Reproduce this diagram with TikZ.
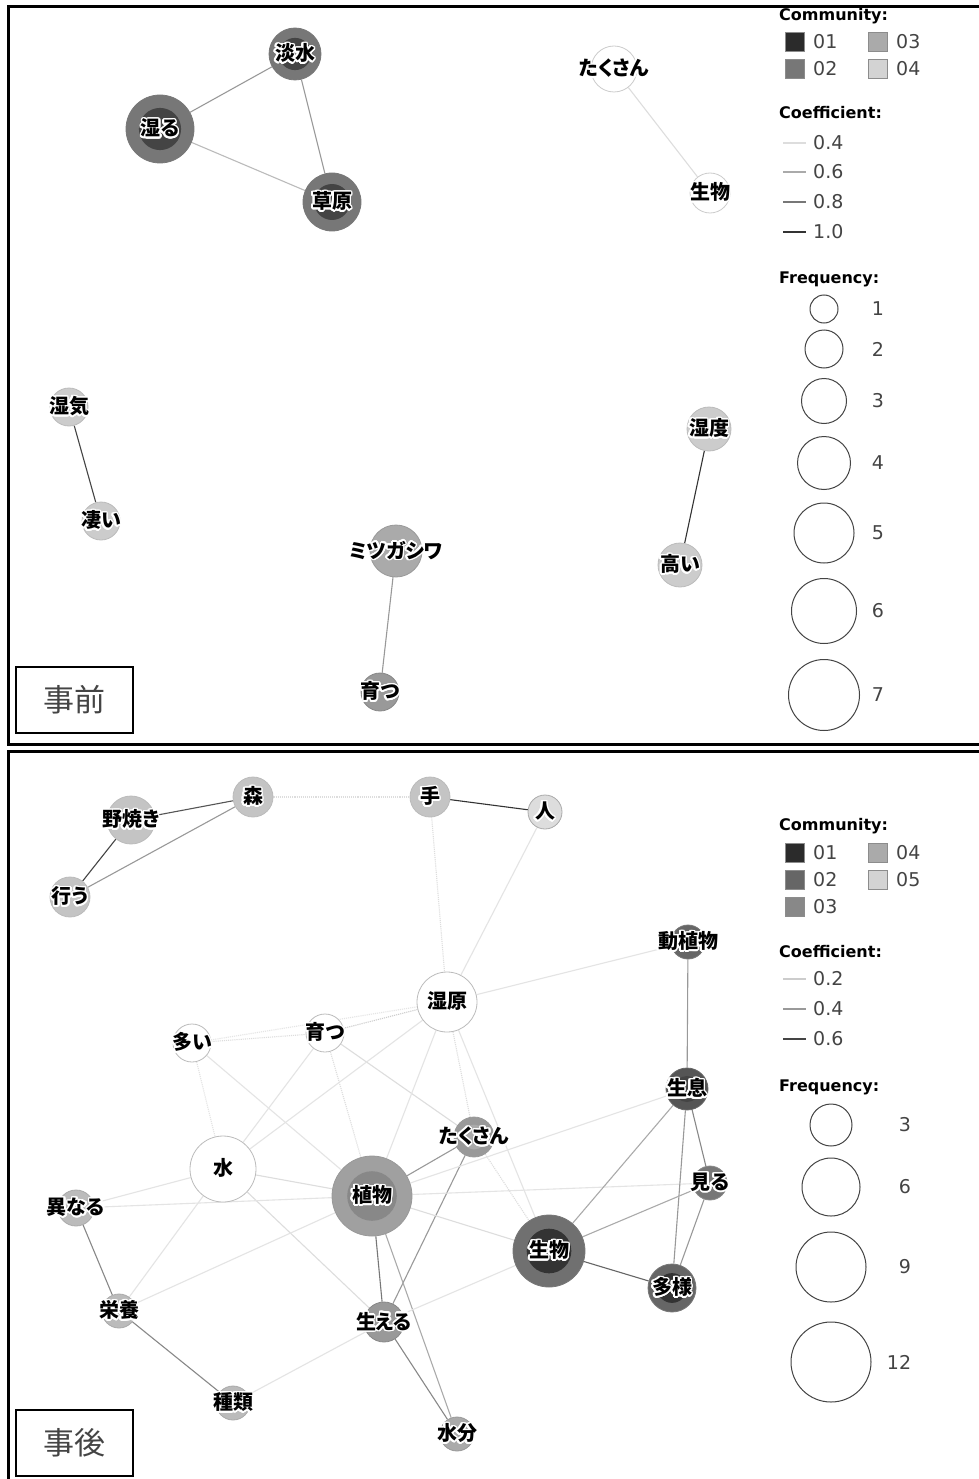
\documentclass[tikz,border=0pt]{standalone}
\usepackage{fontspec}
\usepackage{contour}
\newfontfamily\jpf{Noto Sans CJK JP}[RawFeature=+palt]
\newfontfamily\lgf{DejaVu Sans}
\contourlength{1.5pt}
\contournumber{24}
\usetikzlibrary{backgrounds}
\pgfdeclarelayer{bg}
\pgfdeclarelayer{edges}
\pgfsetlayers{bg,edges,main}
\definecolor{g2b}{HTML}{2B2B2B}
\definecolor{g33}{HTML}{333333}
\definecolor{g44}{HTML}{444444}
\definecolor{g55}{HTML}{555555}
\definecolor{g66}{HTML}{666666}
\definecolor{g70}{HTML}{707070}
\definecolor{g77}{HTML}{777777}
\definecolor{g88}{HTML}{888888}
\definecolor{g99}{HTML}{999999}
\definecolor{ga0}{HTML}{A0A0A0}
\definecolor{gaa}{HTML}{AAAAAA}
\definecolor{gbb}{HTML}{BBBBBB}
\definecolor{gc4}{HTML}{C4C4C4}
\definecolor{gcc}{HTML}{CCCCCC}
\definecolor{gd3}{HTML}{D3D3D3}
\definecolor{gdd}{HTML}{DDDDDD}
\definecolor{ge0}{HTML}{E4E4E4}
\tikzset{
  lab/.style={font=\jpf\bfseries\fontsize{20}{20}\selectfont, text=black, inner sep=0pt},
  ed/.style={line width=1.1pt, draw=#1},
  edd/.style={line width=1.1pt, draw=#1, densely dotted},
  sq/.style={minimum size=19pt, inner sep=0pt, draw=black!45, line width=0.6pt},
  num/.style={font=\lgf\fontsize{19}{19}\selectfont, text=g44, anchor=west, inner sep=0pt},
  hd/.style={font=\lgf\bfseries\fontsize{16}{16}\selectfont, text=black, anchor=west, inner sep=0pt},
  fc/.style={circle, draw=g44, line width=1pt, inner sep=0pt, minimum size=#1},
  frame/.style={line width=3pt, draw=black},
  tag/.style={draw=black, line width=2pt, minimum width=117pt, minimum height=66pt, inner sep=0pt,
    font=\jpf\fontsize{31}{31}\selectfont, text=g44},
}
% name, x, y, r, outer, inner, border, text
\newcommand\wnode[8]{%
  \node[circle, inner sep=0pt, minimum size=2*#4, fill=#5, draw=#7, line width=0.8pt,
    path picture={\fill[#6] (path picture bounding box.center) circle[radius=0.62*#4pt];},
    label={[lab]center:\contour{white}{#8}}] (#1) at (#2,#3) {};}
\begin{document}
\begin{tikzpicture}[x=1pt,y=-1pt]
\begin{pgfonlayer}{bg}
\fill[white] (0,0) rectangle (978,1479);
\end{pgfonlayer}
\useasboundingbox (0,0) rectangle (978,1479);

% ================= top panel =================
\wnode{tansui}{295}{54}{26}{g77}{g44}{g77}{淡水}
\wnode{shimeru}{160}{129}{34}{g77}{g44}{g77}{湿る}
\wnode{sougen}{332}{202}{29}{g77}{g44}{g77}{草原}
\wnode{takusanA}{614}{69}{23}{white}{white}{gcc}{たくさん}
\wnode{seibutsuA}{710}{193}{20}{white}{white}{gcc}{生物}
\wnode{shikki}{69}{407}{19}{gcc}{gcc}{gbb}{湿気}
\wnode{sugoi}{101}{521}{19}{gcc}{gcc}{gbb}{凄い}
\wnode{mitsu}{396}{551}{26}{gaa}{gaa}{g99}{ミツガシワ}
\wnode{sodatsuA}{380}{692}{19}{g99}{g99}{g88}{育つ}
\wnode{shitsudo}{709}{429}{22}{gcc}{gcc}{gbb}{湿度}
\wnode{takai}{680}{565}{22}{gcc}{gcc}{gbb}{高い}

\begin{pgfonlayer}{edges}
\draw[ed=g99] (tansui) -- (shimeru);
\draw[ed=gbb] (shimeru) -- (sougen);
\draw[ed=g99] (tansui) -- (sougen);
\draw[ed=gdd] (takusanA) -- (seibutsuA);
\draw[ed=g44] (shikki) -- (sugoi);
\draw[ed=g99] (mitsu) -- (sodatsuA);
\draw[ed=g33] (shitsudo) -- (takai);
\end{pgfonlayer}

% legend top
\node[hd] (comA) at (779,16) {Community:};
\node[sq, fill=g2b] (c1A) at (795,42) {};
\node[num] (t1A) at (813,42) {01};
\node[sq, fill=g77] (c2A) at (795,69) {};
\node[num] (t2A) at (813,69) {02};
\node[sq, fill=gaa] (c3A) at (878,42) {};
\node[num] (t3A) at (896,42) {03};
\node[sq, fill=gd3] (c4A) at (878,69) {};
\node[num] (t4A) at (896,69) {04};
\node[hd] (coA) at (779,113) {Coefficient:};
\draw[line width=1.4pt, gdd] (783,143) -- (806,143);
\node[num] (k1A) at (813,143) {0.4};
\draw[line width=1.4pt, gaa] (783,172) -- (806,172);
\node[num] (k2A) at (813,172) {0.6};
\draw[line width=1.4pt, g77] (783,202) -- (806,202);
\node[num] (k3A) at (813,202) {0.8};
\draw[line width=1.4pt, g33] (783,232) -- (806,232);
\node[num] (k4A) at (813,232) {1.0};
\node[hd] (frA) at (779,279) {Frequency:};
\node[fc=28] (f1A) at (824,309) {};
\node[fc=38] (f2A) at (824,349) {};
\node[fc=45] (f3A) at (824,401) {};
\node[fc=53] (f4A) at (824,463) {};
\node[fc=60] (f5A) at (824,533) {};
\node[fc=65] (f6A) at (824,611) {};
\node[fc=71] (f7A) at (824,695) {};
\node[num, anchor=center] (n1A) at (878,309) {1};
\node[num, anchor=center] (n2A) at (878,349) {2};
\node[num, anchor=center] (n3A) at (878,401) {3};
\node[num, anchor=center] (n4A) at (878,463) {4};
\node[num, anchor=center] (n5A) at (878,533) {5};
\node[num, anchor=center] (n6A) at (878,611) {6};
\node[num, anchor=center] (n7A) at (878,695) {7};

\node[tag] (jizen) at (74,700) {事前};
\draw[frame] (8,7) rectangle (995,744);

% ================= bottom panel =================
\wnode{yayaki}{131}{820}{24}{gc4}{gc4}{gbb}{野焼き}
\wnode{mori}{253}{797}{20}{gc4}{gc4}{gbb}{森}
\wnode{te}{430}{797}{20}{gc4}{gc4}{gbb}{手}
\wnode{hito}{545}{812}{17}{gdd}{gdd}{gaa}{人}
\wnode{okonau}{70}{897}{20}{gc4}{gc4}{gbb}{行う}
\wnode{shitsugen}{447}{1002}{30}{white}{white}{gbb}{湿原}
\wnode{sodatsuB}{325}{1033}{19}{white}{white}{gbb}{育つ}
\wnode{ooi}{192}{1043}{19}{white}{white}{gbb}{多い}
\wnode{doushoku}{688}{942}{17}{g66}{g55}{g77}{動植物}
\wnode{seisoku}{687}{1089}{21}{g55}{g44}{g66}{生息}
\wnode{takusanB}{474}{1137}{20}{g99}{gaa}{g99}{たくさん}
\wnode{mizu}{223}{1169}{33}{white}{white}{gbb}{水}
\wnode{shokubutsu}{372}{1196}{40}{ga0}{g88}{g99}{植物}
\wnode{miru}{710}{1183}{17}{g77}{g77}{g88}{見る}
\wnode{seibutsuB}{549}{1251}{36}{g70}{g33}{g77}{生物}
\wnode{tayou}{672}{1288}{24}{g66}{g33}{g77}{多様}
\wnode{kotonaru}{76}{1208}{18}{gbb}{gbb}{gaa}{異なる}
\wnode{eiyou}{119}{1311}{17}{gbb}{gbb}{gaa}{栄養}
\wnode{haeru}{384}{1322}{20}{g99}{g99}{g88}{生える}
\wnode{shurui}{233}{1403}{17}{gbb}{gbb}{gaa}{種類}
\wnode{suibun}{457}{1434}{17}{gaa}{gaa}{g99}{水分}

\begin{pgfonlayer}{edges}
\draw[ed=g55] (yayaki) -- (mori);
\draw[ed=g44] (yayaki) -- (okonau);
\draw[ed=g99] (okonau) -- (mori);
\draw[edd=gdd] (mori) -- (te);
\draw[ed=g33] (te) -- (hito);
\draw[edd=gdd] (te) -- (shitsugen);
\draw[ed=ge0] (hito) -- (shitsugen);
\draw[ed=ge0] (shitsugen) -- (doushoku);
\draw[edd=gcc] (shitsugen) -- (sodatsuB);
\draw[edd=gdd] (ooi) -- (sodatsuB);
\draw[edd=ge0] (ooi) -- (shitsugen);
\draw[ed=ge0] (ooi) -- (shokubutsu);
\draw[edd=ge0] (ooi) -- (mizu);
\draw[ed=ge0] (sodatsuB) -- (mizu);
\draw[ed=gdd] (sodatsuB) -- (takusanB);
\draw[edd=gdd] (sodatsuB) -- (shokubutsu);
\draw[ed=ge0] (shitsugen) -- (mizu);
\draw[ed=ge0] (shitsugen) -- (shokubutsu);
\draw[edd=gdd] (shitsugen) -- (takusanB);
\draw[ed=ge0] (shitsugen) -- (seibutsuB);
\draw[ed=g99] (takusanB) -- (shokubutsu);
\draw[ed=g99] (takusanB) -- (haeru);
\draw[edd=gdd] (takusanB) -- (seibutsuB);
\draw[ed=g77] (shokubutsu) -- (haeru);
\draw[ed=gaa] (shokubutsu) -- (suibun);
\draw[ed=g88] (haeru) -- (suibun);
\draw[ed=gdd] (shokubutsu) -- (seibutsuB);
\draw[ed=ge0] (shokubutsu) -- (miru);
\draw[ed=ge0] (shokubutsu) -- (seisoku);
\draw[ed=gdd] (mizu) -- (shokubutsu);
\draw[ed=ge0] (mizu) -- (kotonaru);
\draw[ed=gdd] (mizu) -- (haeru);
\draw[ed=ge0] (mizu) -- (eiyou);
\draw[ed=ge0] (eiyou) -- (shokubutsu);
\draw[ed=ge0] (kotonaru) -- (shokubutsu);
\draw[ed=g88] (kotonaru) -- (eiyou);
\draw[ed=g88] (eiyou) -- (shurui);
\draw[ed=ge0] (shurui) -- (haeru);
\draw[ed=ge0] (haeru) -- (seibutsuB);
\draw[ed=gaa] (seisoku) -- (seibutsuB);
\draw[ed=g88] (seisoku) -- (miru);
\draw[ed=g99] (seisoku) -- (tayou);
\draw[ed=g99] (miru) -- (tayou);
\draw[ed=gaa] (seibutsuB) -- (miru);
\draw[ed=g66] (seibutsuB) -- (tayou);
\draw[ed=g99] (doushoku) -- (seisoku);
\end{pgfonlayer}

% legend bottom
\node[hd] (comB) at (779,826) {Community:};
\node[sq, fill=g2b] (c1B) at (795,853) {};
\node[num] (t1B) at (813,853) {01};
\node[sq, fill=g66] (c2B) at (795,880) {};
\node[num] (t2B) at (813,880) {02};
\node[sq, fill=g88] (c3B) at (795,907) {};
\node[num] (t3B) at (813,907) {03};
\node[sq, fill=gaa] (c4B) at (878,853) {};
\node[num] (t4B) at (896,853) {04};
\node[sq, fill=gd3] (c5B) at (878,880) {};
\node[num] (t5B) at (896,880) {05};
\node[hd] (coB) at (779,952) {Coefficient:};
\draw[line width=1.4pt, gcc] (783,979) -- (806,979);
\node[num] (k1B) at (813,979) {0.2};
\draw[line width=1.4pt, g99] (783,1009) -- (806,1009);
\node[num] (k2B) at (813,1009) {0.4};
\draw[line width=1.4pt, g44] (783,1039) -- (806,1039);
\node[num] (k3B) at (813,1039) {0.6};
\node[hd] (frB) at (779,1087) {Frequency:};
\node[fc=42] (f1B) at (831,1125) {};
\node[fc=58] (f2B) at (831,1187) {};
\node[fc=70] (f3B) at (831,1267) {};
\node[fc=80] (f4B) at (831,1362) {};
\node[num, anchor=center] (n1B) at (905,1125) {3};
\node[num, anchor=center] (n2B) at (905,1187) {6};
\node[num, anchor=center] (n3B) at (905,1267) {9};
\node[num, anchor=center] (n4B) at (899,1362) {12};

\node[tag] (jigo) at (74,1443) {事後};
\draw[frame] (8,751) rectangle (995,1495);
\end{tikzpicture}
\end{document}
